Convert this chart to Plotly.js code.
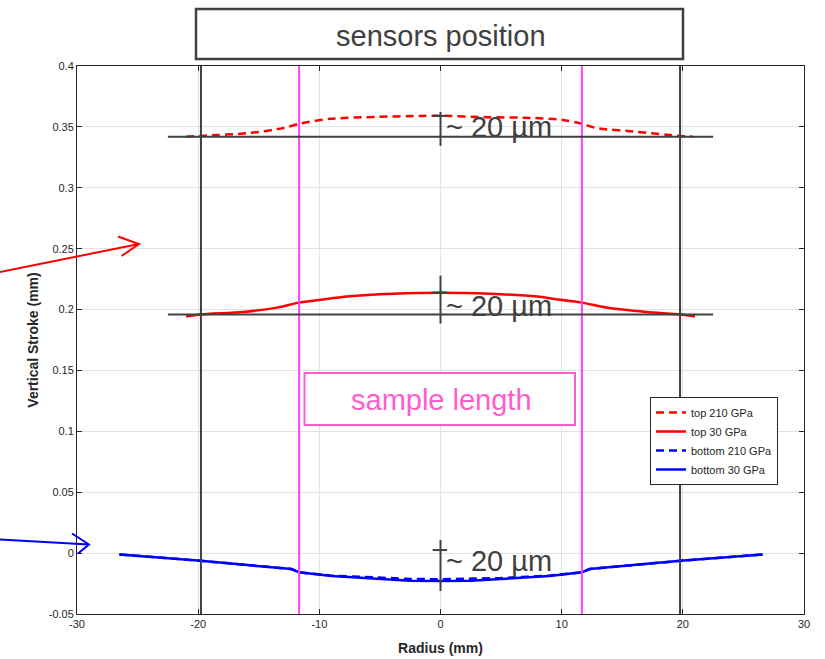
<!DOCTYPE html>
<html>
<head>
<meta charset="utf-8">
<script src="https://cdn.plot.ly/plotly-3.0.1.min.js"></script>
<style>html,body{margin:0;padding:0;background:#fff;}#chart{width:825px;height:659px;}</style>
</head>
<body>
<div id="chart"></div>
<script>
// ---- data ----
const top210X = [-21.0, -19.8, -15.7, -13.0, -11.67, -9.1, -5.2, -1.7, 0, 3.8, 7.4, 10.1, 11.67, 12.9, 16.2, 19.8, 20.8];
const top210Y = [0.3418, 0.3426, 0.3450, 0.3490, 0.3525, 0.3566, 0.3582, 0.3590, 0.3592, 0.3580, 0.3574, 0.3557, 0.3525, 0.3490, 0.3460, 0.3426, 0.3420];

const top30X = [-21.0, -19.8, -16.3, -13.5, -11.67, -9.9, -7.7, -3.9, 0, 4.1, 8.0, 9.9, 11.67, 13.7, 17.0, 19.8, 21.0];
const top30Y = [0.1943, 0.1960, 0.1980, 0.2016, 0.2057, 0.2080, 0.2107, 0.2130, 0.2139, 0.2130, 0.2107, 0.2080, 0.2057, 0.2016, 0.1980, 0.1960, 0.1943];

const bot210X = [-26.5, -19.8, -12.3, -11.67, -9.0, -5.0, -2.5, 0, 2.5, 5.0, 9.0, 11.67, 12.3, 19.8, 26.6];
const bot210Y = [-0.0011, -0.0063, -0.0131, -0.0158, -0.0185, -0.0205, -0.0212, -0.0215, -0.0212, -0.0205, -0.0185, -0.0158, -0.0131, -0.0063, -0.0011];

const bot30X = [-26.5, -19.8, -12.3, -11.67, -9.0, -5.0, -2.5, 0, 2.5, 5.0, 9.0, 11.67, 12.3, 19.8, 26.6];
const bot30Y = [-0.0011, -0.0063, -0.0131, -0.0158, -0.0188, -0.0213, -0.0226, -0.0230, -0.0226, -0.0213, -0.0188, -0.0158, -0.0131, -0.0063, -0.0011];

const seriesNames = ['top 210 GPa', 'top 30 GPa', 'bottom 210 GPa', 'bottom 30 GPa'];

const sensorX = [-19.77, 19.77];          // black vertical lines
const sampleX = [-11.67, 11.67];          // magenta vertical lines
const baselineY = [0.3418, 0.1959];       // horizontal reference lines
const baselineXRange = [-22.5, 22.5];
// "~20 µm" markers: [yLow, yHigh, yTick]
const markerBars = [[0.3344, 0.3623, 0.3590], [0.1885, 0.2279, 0.2139], [-0.0311, 0.0107, 0.0025]];
const markerLabelY = [0.3500, 0.2033, -0.0061];

const xTickVals = [-30, -20, -10, 0, 10, 20, 30];
const xTickText = ['-30', '-20', '-10', '0', '10', '20', '30'];
const yTickVals = [-0.05, 0, 0.05, 0.1, 0.15, 0.2, 0.25, 0.3, 0.35, 0.4];
const yTickText = ['-0.05', '0', '0.05', '0.1', '0.15', '0.2', '0.25', '0.3', '0.35', '0.4'];

// ---- geometry helpers (pixel -> paper) ----
const M = {l: 77, r: 21, t: 66, b: 45};
const PW = 825 - M.l - M.r, PH = 659 - M.t - M.b;
const px = v => (v - M.l) / PW;
const py = v => (659 - M.b - v) / PH;

const FONT = 'Liberation Sans, Arial, Helvetica, sans-serif';
const DARK = '#404040';

const traces = [
  {x: top210X, y: top210Y, name: seriesNames[0], mode: 'lines', line: {color: '#ff0000', width: 2.5, dash: '8px,5px', shape: 'spline', smoothing: 0.8}},
  {x: top30X, y: top30Y, name: seriesNames[1], mode: 'lines', line: {color: '#ff0000', width: 2.5, shape: 'spline', smoothing: 0.8}},
  {x: bot210X, y: bot210Y, name: seriesNames[2], mode: 'lines', line: {color: '#0000ff', width: 2.5, dash: '8px,5px'}},
  {x: bot30X, y: bot30Y, name: seriesNames[3], mode: 'lines', line: {color: '#0000ff', width: 2.5}}
];

const shapes = [];
sensorX.forEach(v => shapes.push({type: 'line', xref: 'x', yref: 'paper', x0: v, x1: v, y0: 0, y1: 1, line: {color: DARK, width: 2}, layer: 'above'}));
sampleX.forEach(v => shapes.push({type: 'line', xref: 'x', yref: 'paper', x0: v, x1: v, y0: 0, y1: 1, line: {color: '#ff40ff', width: 2}, layer: 'above'}));
baselineY.forEach(v => shapes.push({type: 'line', xref: 'x', yref: 'y', x0: baselineXRange[0], x1: baselineXRange[1], y0: v, y1: v, line: {color: DARK, width: 2}, layer: 'above'}));
markerBars.forEach(m => {
  shapes.push({type: 'line', xref: 'x', yref: 'y', x0: 0, x1: 0, y0: m[0], y1: m[1], line: {color: DARK, width: 2}, layer: 'above'});
  shapes.push({type: 'line', xref: 'x', yref: 'y', x0: -0.65, x1: 0.55, y0: m[2], y1: m[2], line: {color: DARK, width: 2}, layer: 'above'});
});
// sensors position box
shapes.push({type: 'rect', xref: 'paper', yref: 'paper', x0: px(196), x1: px(683), y0: py(59), y1: py(9), line: {color: DARK, width: 2.5}, fillcolor: 'rgba(0,0,0,0)'});
// sample length box
shapes.push({type: 'rect', xref: 'paper', yref: 'paper', x0: px(304.5), x1: px(575), y0: py(425), y1: py(373), line: {color: '#ff5ccd', width: 2}, fillcolor: 'rgba(255,255,255,1)', layer: 'above'});
// arrows
function arrowPath(x0, y0, tx, ty, a1x, a1y, a2x, a2y) {
  return `M ${px(x0)} ${py(y0)} L ${px(tx)} ${py(ty)} M ${px(a1x)} ${py(a1y)} L ${px(tx)} ${py(ty)} L ${px(a2x)} ${py(a2y)}`;
}
shapes.push({type: 'path', xref: 'paper', yref: 'paper', path: arrowPath(0, 272, 139, 244, 118, 236.5, 121.5, 256), line: {color: '#ff0000', width: 2}});
shapes.push({type: 'path', xref: 'paper', yref: 'paper', path: arrowPath(0, 539.5, 89, 544.5, 72, 533.5, 78, 553.5), line: {color: '#0000ff', width: 2}});

const annotations = [];
markerLabelY.forEach(v => annotations.push({x: 0.25, y: v, xref: 'x', yref: 'y', xanchor: 'left', yanchor: 'middle', text: '~ 20 µm', showarrow: false, font: {family: FONT, size: 29, color: DARK}}));
annotations.push({x: px(441), y: py(36), xref: 'paper', yref: 'paper', xanchor: 'center', yanchor: 'middle', text: 'sensors position', showarrow: false, font: {family: FONT, size: 29, color: DARK}});
annotations.push({x: px(441), y: py(400), xref: 'paper', yref: 'paper', xanchor: 'center', yanchor: 'middle', text: 'sample length', showarrow: false, font: {family: FONT, size: 29, color: '#ff5ccd'}});

const axisCommon = {
  showline: true, linecolor: '#262626', linewidth: 1, mirror: 'ticks',
  ticks: 'inside', ticklen: 5, tickcolor: '#262626', tickwidth: 1,
  showgrid: true, gridcolor: '#e3e3e3', gridwidth: 1, zeroline: false,
  tickfont: {family: FONT, size: 11, color: '#262626'}
};

const layout = {
  width: 825, height: 659,
  margin: M,
  paper_bgcolor: '#ffffff', plot_bgcolor: '#ffffff',
  font: {family: FONT, color: '#262626'},
  showlegend: true,
  legend: {x: px(650), y: py(397), xanchor: 'left', yanchor: 'top', bgcolor: '#ffffff', bordercolor: '#262626', borderwidth: 1, font: {family: FONT, size: 11, color: '#262626'}, tracegroupgap: 0, entrywidth: 100},
  xaxis: Object.assign({}, axisCommon, {range: [-30, 30], tickvals: xTickVals, ticktext: xTickText, title: {text: '<b>Radius (mm)</b>', font: {family: FONT, size: 14, color: '#262626'}, standoff: 13}}),
  yaxis: Object.assign({}, axisCommon, {range: [-0.05, 0.4], tickvals: yTickVals, ticktext: yTickText, title: {text: '<b>Vertical Stroke (mm)</b>', font: {family: FONT, size: 14, color: '#262626'}, standoff: 6}}),
  shapes: shapes,
  annotations: annotations
};

Plotly.newPlot('chart', traces, layout, {displayModeBar: false, staticPlot: true});
</script>
</body>
</html>
